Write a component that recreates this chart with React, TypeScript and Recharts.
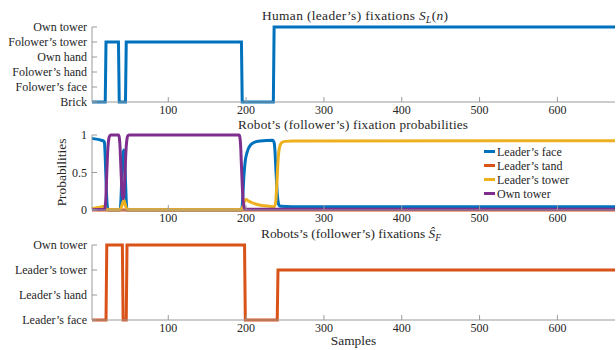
import React from 'react';
import { LineChart, Line, XAxis, YAxis, Legend } from 'recharts';

const FONT = '"Liberation Serif", "DejaVu Serif", serif';
const TEXT = '#262626';
const AXIS = '#9a9a9a';
const BLUE = '#0072BD';
const ORANGE = '#D95319';
const YELLOW = '#EDB120';
const PURPLE = '#7E2F8E';

// x axis
const xTicks = [100, 200, 300, 400, 500, 600];
const xDomain: [number, number] = [2, 674];

// Panel 1: human (leader's) fixations
const humanLabels = ['Brick', 'Folower’s face', 'Folower’s hand', 'Own hand', 'Folower’s tower', 'Own tower'];
const humanSamples = [2, 19, 20, 36, 37, 45, 46, 194, 195, 235, 236, 674];
const humanStates = [0, 0, 4, 4, 0, 0, 4, 4, 0, 0, 5, 5];

// Panel 2: robot's fixation probabilities
const probNames = ['Leader’s face', 'Leader’s tand', 'Leader’s tower', 'Own tower'];
const faceSamples = [2, 8, 14, 17, 18, 19, 20, 21, 22, 23, 38, 39, 40, 41, 42, 43, 44, 45, 46, 47, 194, 195, 196, 197, 198, 199, 201, 203, 206, 210, 218, 234, 236, 237, 238, 239, 240, 241, 242, 244, 260, 674];
const faceProb = [0.955, 0.945, 0.93, 0.92, 0.9, 0.7, 0.4, 0.15, 0.03, 0, 0, 0.1, 0.35, 0.6, 0.75, 0.8, 0.7, 0.4, 0.12, 0, 0, 0.05, 0.22, 0.42, 0.56, 0.66, 0.76, 0.82, 0.87, 0.9, 0.92, 0.93, 0.9, 0.8, 0.6, 0.4, 0.22, 0.12, 0.07, 0.05, 0.045, 0.045];
const tandSamples = [2, 674];
const tandProb = [0, 0];
const towerSamples = [2, 8, 14, 17, 19, 20, 22, 38, 40, 42, 43, 44, 46, 48, 194, 196, 198, 200, 203, 207, 212, 220, 230, 236, 238, 239, 240, 241, 242, 244, 246, 250, 260, 674];
const towerProb = [0.02, 0.03, 0.04, 0.05, 0.04, 0.02, 0.005, 0.005, 0.05, 0.11, 0.13, 0.1, 0.03, 0.005, 0.005, 0.05, 0.12, 0.14, 0.12, 0.1, 0.08, 0.06, 0.05, 0.045, 0.1, 0.25, 0.45, 0.65, 0.78, 0.87, 0.9, 0.915, 0.92, 0.925];
const ownSamples = [2, 18, 19, 20, 21, 22, 23, 24, 26, 36, 37, 38, 39, 40, 41, 42, 43, 44, 45, 46, 47, 48, 50, 191, 192, 193, 194, 195, 196, 197, 198, 200, 674];
const ownProb = [0.005, 0.01, 0.05, 0.2, 0.5, 0.75, 0.9, 0.97, 1, 1, 0.97, 0.85, 0.6, 0.35, 0.2, 0.15, 0.2, 0.4, 0.65, 0.85, 0.95, 0.99, 1, 1, 0.97, 0.85, 0.6, 0.35, 0.15, 0.06, 0.02, 0.01, 0.01];
const probTicks = [0, 0.5, 1];
const probTickLabels = ['0', '0.5', '1'];

// Panel 3: robot's (follower's) fixations
const robotLabels = ['Leader’s face', 'Leader’s hand', 'Leader’s tower', 'Own tower'];
const robotSamples = [2, 20, 21, 41, 42, 46, 47, 198, 199, 240, 241, 674];
const robotStates = [0, 0, 3, 3, 0, 0, 3, 3, 0, 0, 2, 2];

const toRows = (xs: number[], ys: number[]) => xs.map((x, i) => ({ x, y: ys[i] }));

const humanData = toRows(humanSamples, humanStates);
const robotData = toRows(robotSamples, robotStates);
const faceData = toRows(faceSamples, faceProb);
const tandData = toRows(tandSamples, tandProb);
const towerData = toRows(towerSamples, towerProb);
const ownData = toRows(ownSamples, ownProb);

const probSeries = [
  { name: probNames[0], data: faceData, color: BLUE },
  { name: probNames[1], data: tandData, color: ORANGE },
  { name: probNames[2], data: towerData, color: YELLOW },
  { name: probNames[3], data: ownData, color: PURPLE },
];

const XTick = (p: any) => (
  <text x={p.x} y={p.y} dy="0.71em" textAnchor="middle" fill={TEXT} fontSize={12} fontFamily={FONT}>
    {p.payload.value}
  </text>
);

const makeYTick = (fmt: (v: number) => string) => (p: any) => (
  <text x={p.x} y={p.y} dy="0.355em" textAnchor="end" fill={TEXT} fontSize={12} fontFamily={FONT}>
    {fmt(p.payload.value)}
  </text>
);

function renderAxes(yDomain: [number, number], yTicks: number[], yFmt: (v: number) => string) {
  return [
    <XAxis key="xb" xAxisId="b" dataKey="x" type="number" domain={xDomain} ticks={xTicks} interval={0}
      height={18} tickSize={-5} tickMargin={8.5} axisLine={{ stroke: AXIS }} tickLine={{ stroke: AXIS }} tick={XTick} />,
    <XAxis key="xt" xAxisId="t" orientation="top" dataKey="x" type="number" domain={xDomain} ticks={xTicks} interval={0}
      height={0} tickSize={-5} tick={() => <g />} axisLine={{ stroke: AXIS }} tickLine={{ stroke: AXIS }} />,
    <YAxis key="yl" yAxisId="l" type="number" domain={yDomain} ticks={yTicks} interval={0} width={92}
      tickSize={-5} tickMargin={10} axisLine={{ stroke: AXIS }} tickLine={{ stroke: AXIS }} tick={makeYTick(yFmt)} />,
    <YAxis key="yr" yAxisId="r" orientation="right" type="number" domain={yDomain} ticks={yTicks} interval={0} width={0}
      tickSize={-5} tick={() => <g />} axisLine={{ stroke: AXIS }} tickLine={{ stroke: AXIS }} />,
  ];
}

const legendContent = () => (
  <div style={{ fontFamily: FONT, fontSize: 12, color: TEXT }}>
    {probSeries.map((s) => (
      <div key={s.name} style={{ display: 'flex', alignItems: 'center', height: 14, lineHeight: '14px', whiteSpace: 'nowrap' }}>
        <span style={{ display: 'inline-block', width: 11, height: 3, background: s.color, marginRight: 2 }} />
        <span>{s.name}</span>
      </div>
    ))}
  </div>
);

export default function App() {
  return (
    <div style={{ position: 'absolute', left: 0, top: 0, width: 616, height: 350, background: '#fff', overflow: 'hidden' }}>
      <div style={{ position: 'absolute', left: 0, top: 0 }}>
        <LineChart width={616} height={120} data={humanData} margin={{ top: 27, right: 1, bottom: 0, left: 0 }}>
          {renderAxes([0, 5], [0, 1, 2, 3, 4, 5], (v) => humanLabels[v] ?? '')}
          <Line xAxisId="b" yAxisId="l" type="linear" dataKey="y" stroke={BLUE} strokeWidth={3} dot={false} activeDot={false} isAnimationActive={false} />
        </LineChart>
      </div>
      <div style={{ position: 'absolute', left: 0, top: 115 }}>
        <LineChart width={616} height={113} margin={{ top: 20, right: 1, bottom: 0, left: 0 }}>
          {renderAxes([0, 1], probTicks, (v) => probTickLabels[probTicks.indexOf(v)] ?? '')}
          {probSeries.map((s) => (
            <Line key={s.name} xAxisId="b" yAxisId="l" data={s.data} name={s.name} type="monotone" dataKey="y" stroke={s.color}
              strokeWidth={3} dot={false} activeDot={false} isAnimationActive={false} />
          ))}
          <Legend layout="vertical" align="center" verticalAlign="middle" content={legendContent}
            wrapperStyle={{ left: 484, top: 29.5, width: 120, height: 56 }} />
        </LineChart>
      </div>
      <div style={{ position: 'absolute', left: 0, top: 225 }}>
        <LineChart width={616} height={113} data={robotData} margin={{ top: 20, right: 1, bottom: 0, left: 0 }}>
          {renderAxes([0, 3], [0, 1, 2, 3], (v) => robotLabels[v] ?? '')}
          <Line xAxisId="b" yAxisId="l" type="linear" dataKey="y" stroke={ORANGE} strokeWidth={3} dot={false} activeDot={false} isAnimationActive={false} />
        </LineChart>
      </div>
      <svg width={616} height={350} style={{ position: 'absolute', left: 0, top: 0, pointerEvents: 'none' }}
        fontFamily={FONT} fill={TEXT}>
        <text x={262} y={20} fontSize={13.4} textLength={186} lengthAdjust="spacing">
          Human (leader’s) fixations <tspan fontStyle="italic">S</tspan>
          <tspan fontStyle="italic" fontSize={9.5} dy={3}>L</tspan>
          <tspan dy={-3}>(</tspan><tspan fontStyle="italic">n</tspan><tspan>)</tspan>
        </text>
        <text x={238} y={128.5} fontSize={13.2} textLength={230} lengthAdjust="spacing">
          Robot’s (follower’s) fixation probabilities
        </text>
        <text x={261} y={238} fontSize={13.4} textLength={180} lengthAdjust="spacing">
          Robots’s (follower’s) fixations <tspan fontStyle="italic">Ŝ</tspan>
          <tspan fontStyle="italic" fontSize={9.5} dy={3}>F</tspan>
        </text>
        <text x={353.5} y={345} fontSize={13.4} textAnchor="middle">Samples</text>
        <text transform="translate(66,172.5) rotate(-90)" fontSize={13.4} textAnchor="middle">Probabilities</text>
      </svg>
    </div>
  );
}
